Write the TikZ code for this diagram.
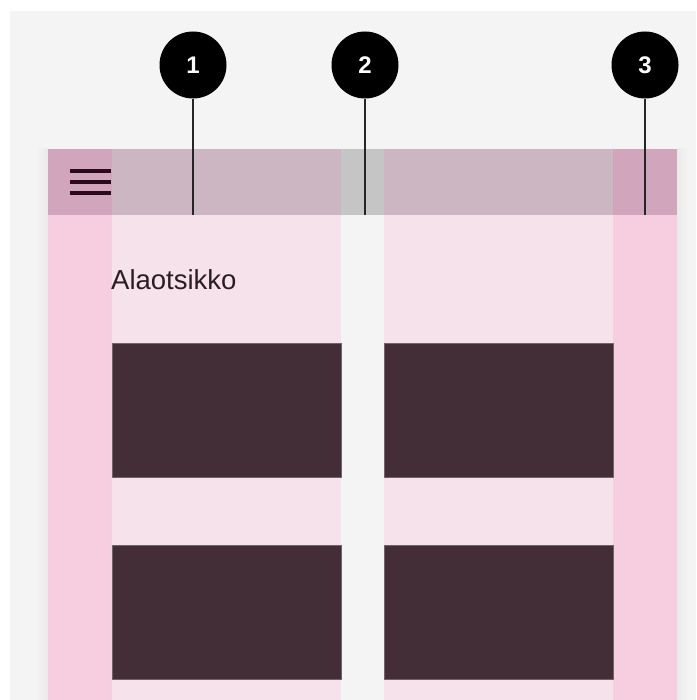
\documentclass[tikz,border=0pt]{standalone}
\usepackage{fontspec}
\setmainfont{Liberation Sans}
\definecolor{pagebg}{HTML}{F4F4F4}
\definecolor{pageshade}{HTML}{EAEAEA}
\definecolor{marginpink}{HTML}{F6CEE0}
\definecolor{colpink}{HTML}{F6E2EB}
\definecolor{cardcol}{HTML}{432E37}
\definecolor{barmargin}{HTML}{D1A5BB}
\definecolor{barcol}{HTML}{CCB6C1}
\definecolor{bargutter}{HTML}{C5C5C5}
\definecolor{menucol}{HTML}{2A0A1C}
\definecolor{textcol}{HTML}{2B1D23}
\begin{document}
\begin{tikzpicture}[x=1pt, y=-1pt,
    callout/.style={circle, fill=black, minimum size=67pt, inner sep=0pt,
        text=white, font=\bfseries\fontsize{24}{24}\selectfont},
    leader/.style={line width=1.3pt, draw=black!85}]

    \useasboundingbox (0,0) rectangle (696,700);

    % =================================================================
    % NỀN TRANG
    % =================================================================
    \fill[white] (0,0) rectangle (696,700);
    \fill[pagebg] (10,11) rectangle (696,700);
    \shade[left color=pagebg, right color=pageshade] (36,149) rectangle (48,700);
    \shade[left color=pageshade, right color=pagebg] (677,149) rectangle (688,700);

    % =================================================================
    % KHUNG ĐIỆN THOẠI: LỀ, CỘT VÀ RÃNH
    % =================================================================
    \def\xa{48}    % mép trái
    \def\xb{112}   % đầu cột 1
    \def\xc{341}   % cuối cột 1
    \def\xd{384}   % đầu cột 2
    \def\xe{613}   % cuối cột 2
    \def\xf{677}   % mép phải
    \def\yT{149}   % đỉnh thanh ứng dụng
    \def\yB{215}   % đáy thanh ứng dụng

    \begin{scope}
        % Lề hai bên
        \fill[marginpink] (\xa,\yT) rectangle (\xb,700);
        \fill[marginpink] (\xe,\yT) rectangle (\xf,700);
        % Hai cột nội dung
        \fill[colpink] (\xb,\yB) rectangle (\xc,700);
        \fill[colpink] (\xd,\yB) rectangle (\xe,700);

        % Thanh ứng dụng phủ lên lề, cột và rãnh
        \fill[barmargin] (\xa,\yT) rectangle (\xb,\yB);
        \fill[barcol] (\xb,\yT) rectangle (\xc,\yB);
        \fill[bargutter] (\xc,\yT) rectangle (\xd,\yB);
        \fill[barcol] (\xd,\yT) rectangle (\xe,\yB);
        \fill[barmargin] (\xe,\yT) rectangle (\xf,\yB);

        % Biểu tượng menu
        \foreach \y in {171,182,193}
            \draw[menucol, line width=4pt] (70,\y) -- (111,\y);

        % Tiêu đề phụ
        \node[anchor=base west, inner sep=0pt, text=textcol,
            font=\fontsize{27.5}{27.5}\selectfont] (subtitle) at (111,289) {Alaotsikko};

        % Các thẻ tối
        \foreach \y in {343,545}
            \foreach \x in {\xb,\xd}
                \filldraw[fill=cardcol, draw=cardcol!75!white, line width=0.5pt]
                    (\x,\y) rectangle +(229,134);
    \end{scope}

    % =================================================================
    % CHÚ THÍCH ĐÁNH SỐ
    % =================================================================
    \node[callout] (c1) at (193,65) {1};
    \node[callout] (c2) at (365,65) {2};
    \node[callout] (c3) at (645,65) {3};

    \coordinate (t1) at (193,\yB);
    \coordinate (t2) at (365,\yB);
    \coordinate (t3) at (645,\yB);

    \draw[leader] (c1) -- (t1);
    \draw[leader] (c2) -- (t2);
    \draw[leader] (c3) -- (t3);

\end{tikzpicture}
\end{document}
